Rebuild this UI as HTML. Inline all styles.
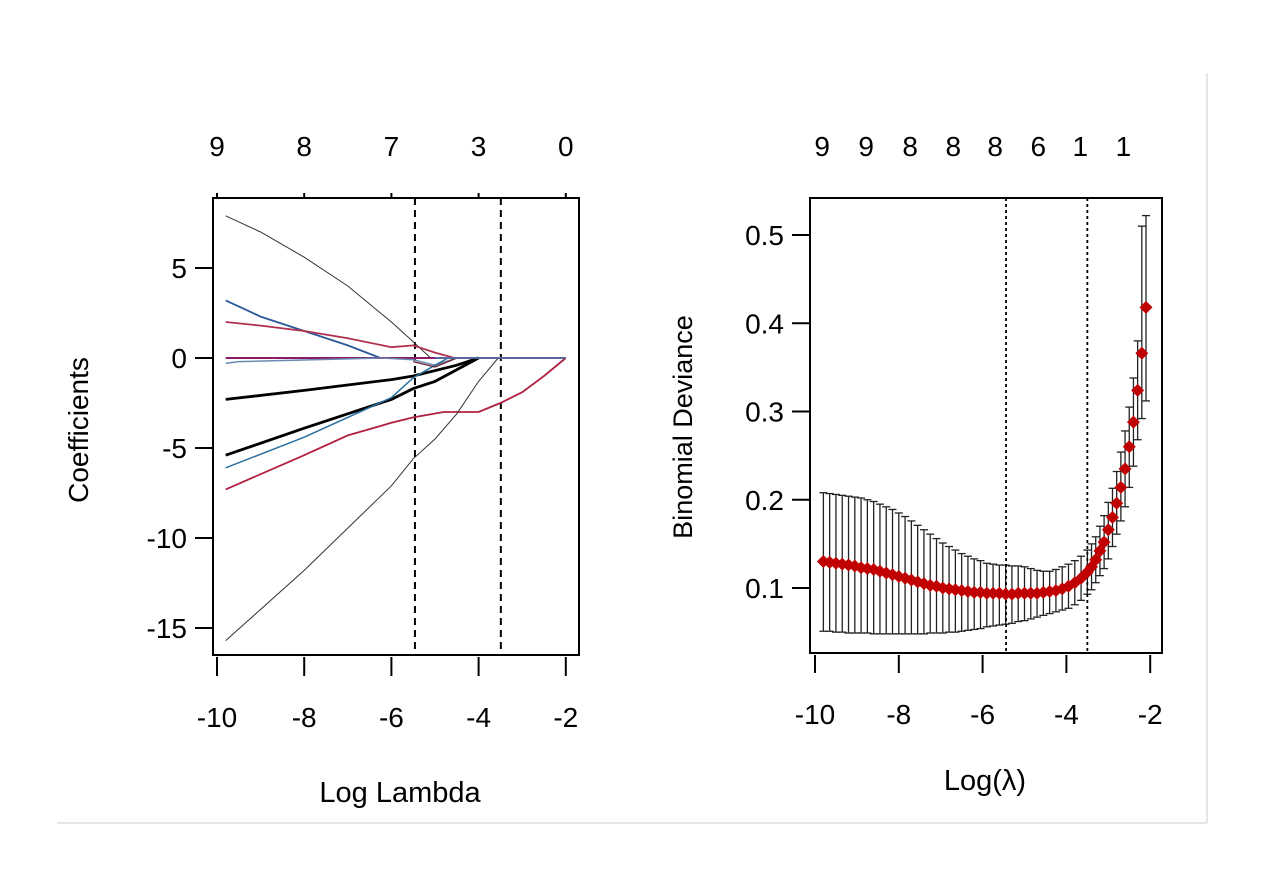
<!DOCTYPE html>
<html><head><meta charset="utf-8"><style>
html,body{margin:0;padding:0;background:#fff;}
svg{display:block;font-family:"Liberation Sans",Arial,sans-serif;}
</style></head><body>
<svg id="fig" width="1267" height="896" viewBox="0 0 1267 896">
<line x1="57" y1="823" x2="1207" y2="823" stroke="#ddd" stroke-width="1.5"/>
<line x1="1207" y1="73" x2="1207" y2="823" stroke="#ddd" stroke-width="1.5"/>
<g id="left"></g>
<g id="right"></g>
</svg>
<script>
// ---------- Left: coefficient paths ----------
const lXTicks = [-10,-8,-6,-4,-2];
const lYTicks = [5,0,-5,-10,-15];
const lTopLabels = ["9","8","7","3","0"];
const lVlines = [-5.46,-3.49];
const pathColors = ["#333","#2a5a9a","#b03050","#8a1a6a","#6a8ab0","#000","#000","#2a70a0","#b02040","#333","#6a2030"];
const pathWidths = [1,1.8,1.8,2,1.5,2.8,2.8,1.5,1.8,1,1.3];
const pathLam = [
 [-9.8,-9,-8,-7,-6,-5.5,-5.1],
 [-9.8,-9,-8,-7,-6.25],
 [-9.8,-9,-8,-7,-6,-5.5,-5,-4.55],
 [-9.8,-2],
 [-9.8,-9.5,-6.2,-5.5,-5,-4.5],
 [-9.8,-8,-6,-5.5,-4.5,-4],
 [-9.8,-8,-6,-5.5,-5,-4],
 [-9.8,-8,-6,-5.5,-5,-4.7],
 [-9.8,-8,-7,-6,-5.5,-4.8,-4,-3.5,-3,-2.5,-2],
 [-9.8,-8,-6,-5.5,-5,-4.5,-4,-3.55],
 [-5.5,-5,-4.5]
];
const pathVal = [
 [7.9,7.0,5.6,4.0,2.0,0.9,0],
 [3.2,2.3,1.5,0.7,0],
 [2.0,1.8,1.5,1.1,0.6,0.7,0.3,0],
 [0,0],
 [-0.3,-0.2,0,-0.1,-0.4,0],
 [-2.3,-1.8,-1.2,-1.0,-0.4,0],
 [-5.4,-3.9,-2.3,-1.7,-1.3,0],
 [-6.1,-4.4,-2.2,-1.1,-0.4,0],
 [-7.3,-5.4,-4.3,-3.6,-3.3,-3.0,-3.0,-2.5,-1.9,-1.0,0],
 [-15.7,-11.8,-7.1,-5.6,-4.5,-3.1,-1.3,0],
 [-0.2,-0.5,0]
];
// ---------- Right: CV deviance ----------
const rXTicks = [-10,-8,-6,-4,-2];
const rYTicks = [0.5,0.4,0.3,0.2,0.1];
const rTopLabels = ["9","9","8","8","8","6","1","1"];
const rTopLam = [-9.83,-8.78,-7.73,-6.7,-5.7,-4.67,-3.67,-2.64];
const rVlines = [-5.44,-3.5];
const cvLam = [-9.8,-9.65,-9.5,-9.35,-9.2,-9.05,-8.9,-8.75,-8.6,-8.45,-8.3,-8.15,-8.0,-7.85,-7.7,-7.55,-7.4,-7.25,-7.1,-6.95,-6.8,-6.65,-6.5,-6.35,-6.2,-6.05,-5.9,-5.75,-5.6,-5.45,-5.3,-5.15,-5.0,-4.85,-4.7,-4.55,-4.4,-4.25,-4.1,-3.95,-3.8,-3.65,-3.5,-3.4,-3.3,-3.2,-3.1,-3.0,-2.9,-2.8,-2.7,-2.6,-2.5,-2.4,-2.3,-2.2,-2.1];
const cvMean = [0.130,0.129,0.128,0.127,0.126,0.125,0.123,0.122,0.121,0.119,0.117,0.115,0.113,0.111,0.109,0.107,0.105,0.103,0.102,0.100,0.099,0.098,0.097,0.096,0.095,0.095,0.094,0.094,0.094,0.093,0.093,0.094,0.094,0.094,0.094,0.095,0.096,0.097,0.099,0.102,0.106,0.111,0.118,0.124,0.132,0.142,0.152,0.166,0.180,0.196,0.214,0.235,0.260,0.288,0.324,0.366,0.418];
const cvUpper = [0.208,0.207,0.206,0.205,0.204,0.203,0.202,0.200,0.198,0.195,0.192,0.189,0.185,0.181,0.176,0.171,0.166,0.161,0.156,0.151,0.147,0.143,0.139,0.136,0.133,0.131,0.128,0.127,0.126,0.126,0.125,0.125,0.124,0.122,0.120,0.119,0.119,0.121,0.124,0.127,0.131,0.136,0.143,0.150,0.158,0.170,0.182,0.197,0.213,0.232,0.254,0.278,0.305,0.338,0.380,0.510,0.522];
const cvLower = [0.051,0.051,0.050,0.050,0.049,0.049,0.049,0.049,0.048,0.048,0.048,0.048,0.048,0.048,0.048,0.048,0.048,0.049,0.049,0.049,0.050,0.050,0.051,0.052,0.053,0.054,0.056,0.057,0.058,0.059,0.060,0.062,0.063,0.065,0.067,0.069,0.071,0.073,0.075,0.077,0.081,0.086,0.093,0.098,0.106,0.114,0.122,0.133,0.147,0.161,0.176,0.192,0.214,0.238,0.268,0.292,0.312];

const NS="http://www.w3.org/2000/svg";
function mk(parent,tag,attrs,text){const e=document.createElementNS(NS,tag);for(const k in attrs)e.setAttribute(k,attrs[k]);if(text!==undefined)e.textContent=text;parent.appendChild(e);return e;}
const FS=28;

// left axes
const lx = v => 217 + (v+10)*43.6;
const ly = v => 358 - v*18;
const L = document.getElementById('left');
lVlines.forEach(v=>{const e=mk(L,'line',{x1:lx(v),x2:lx(v),y1:198,y2:655,stroke:'#000','stroke-width':2,'stroke-dasharray':'7,5'});

});
pathLam.forEach((lam,i)=>{
 const d=lam.map((v,j)=>(j?'L':'M')+lx(v).toFixed(1)+','+ly(pathVal[i][j]).toFixed(1)).join(' ');
 const p=mk(L,'path',{d:d,fill:'none',stroke:pathColors[i],'stroke-width':pathWidths[i]});
 
 
});
{const e=mk(L,'line',{x1:lx(-5),x2:lx(-2),y1:ly(0),y2:ly(0),stroke:'#4a80b0','stroke-width':1.5});

}
{const e=mk(L,'rect',{x:213,y:198,width:366,height:457,fill:'none',stroke:'#000','stroke-width':2});

}
lXTicks.forEach(v=>{
 mk(L,'line',{x1:lx(v),x2:lx(v),y1:657,y2:676,stroke:'#000','stroke-width':2});
 mk(L,'line',{x1:lx(v),x2:lx(v),y1:193,y2:198,stroke:'#000','stroke-width':2});
 const t=mk(L,'text',{x:lx(v),y:727,'text-anchor':'middle','font-size':FS},String(v));
 
 
});
lTopLabels.forEach((s,i)=>{const t=mk(L,'text',{x:lx(lXTicks[i]),y:156,'text-anchor':'middle','font-size':FS},s);

});
lYTicks.forEach(v=>{
 mk(L,'line',{x1:195,x2:213,y1:ly(v),y2:ly(v),stroke:'#000','stroke-width':2});
 const t=mk(L,'text',{x:187,y:ly(v)+10,'text-anchor':'end','font-size':FS},String(v));
 
 
});
{const t=mk(L,'text',{x:400,y:802,'text-anchor':'middle','font-size':29},'Log Lambda');


const t2=mk(L,'text',{x:88,y:430,'text-anchor':'middle','font-size':28,transform:'rotate(-90 88 430)'},'Coefficients');

}

// right axes
const rx = v => 815 + (v+10)*41.9;
const ry = v => 588 - (v-0.1)*882.5;
const R = document.getElementById('right');
cvLam.forEach((v,i)=>{
 const x=rx(v);
 const g=mk(R,'g',{stroke:'#222','stroke-width':1.3});
 
 
 mk(g,'line',{x1:x,x2:x,y1:ry(cvUpper[i]),y2:ry(cvLower[i])});
 mk(g,'line',{x1:x-4,x2:x+4,y1:ry(cvUpper[i]),y2:ry(cvUpper[i])});
 mk(g,'line',{x1:x-4,x2:x+4,y1:ry(cvLower[i]),y2:ry(cvLower[i])});
});
rVlines.forEach(v=>{const e=mk(R,'line',{x1:rx(v),x2:rx(v),y1:198,y2:653,stroke:'#000','stroke-width':1.8,'stroke-dasharray':'3,3'});

});
cvLam.forEach((v,i)=>{
 const x=rx(v),y=ry(cvMean[i]);
 const p=mk(R,'path',{d:`M${x},${y-6.5} L${x+6.5},${y} L${x},${y+6.5} L${x-6.5},${y} Z`,fill:'#c00000'});
 
 
});
{const e=mk(R,'rect',{x:810,y:198,width:352,height:455,fill:'none',stroke:'#000','stroke-width':2});

}
rXTicks.forEach(v=>{
 mk(R,'line',{x1:rx(v),x2:rx(v),y1:655,y2:673,stroke:'#000','stroke-width':2});
 const t=mk(R,'text',{x:rx(v),y:724,'text-anchor':'middle','font-size':FS},String(v));
 
 
});
rTopLabels.forEach((s,i)=>{const t=mk(R,'text',{x:rx(rTopLam[i]),y:156,'text-anchor':'middle','font-size':FS},s);

});
rYTicks.forEach(v=>{
 mk(R,'line',{x1:792,x2:810,y1:ry(v),y2:ry(v),stroke:'#000','stroke-width':2});
 const t=mk(R,'text',{x:784,y:ry(v)+10,'text-anchor':'end','font-size':FS},v.toFixed(1));
 
 
});
{const t=mk(R,'text',{x:985,y:790,'text-anchor':'middle','font-size':29},'Log(λ)');


const t2=mk(R,'text',{x:692,y:427,'text-anchor':'middle','font-size':27,transform:'rotate(-90 692 427)'},'Binomial Deviance');

}
</script>
</body></html>
